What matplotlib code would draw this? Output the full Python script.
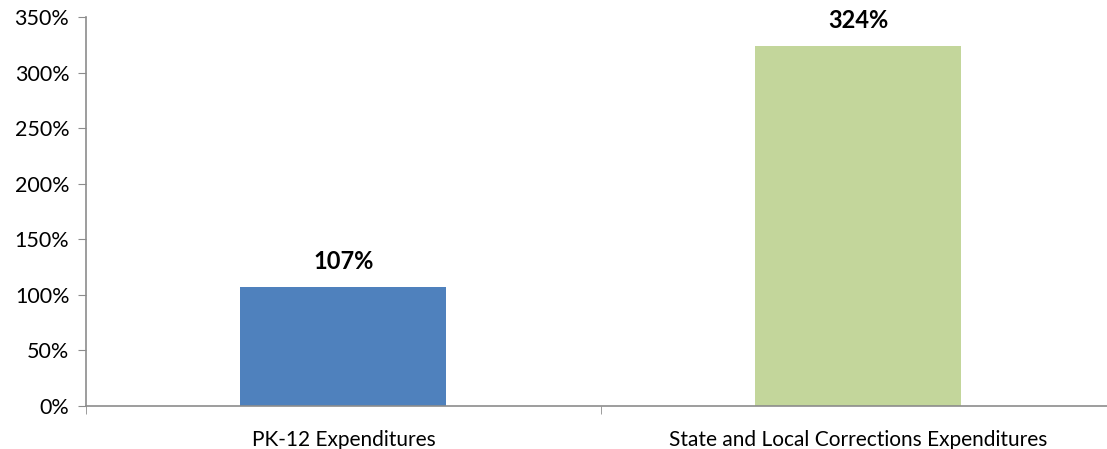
import matplotlib
matplotlib.use("Agg")
import matplotlib.pyplot as plt
from matplotlib.ticker import FuncFormatter, FixedLocator

plt.rcParams['font.family'] = ['Lato', 'DejaVu Sans']

categories = ['PK-12 Expenditures', 'State and Local Corrections Expenditures']
values = [107, 324]
colors = ['#4F81BD', '#C3D69B']

fig = plt.figure(figsize=(11.07, 4.49), dpi=100)
ax = fig.add_axes([0.0777, 0.0958, 0.93, 0.8664])

x = list(range(len(categories)))
ax.bar(x, values, width=0.40, color=colors, zorder=2)

for xi, v in zip(x, values):
    ax.annotate(f'{v}%', xy=(xi, v), xytext=(0, 10), textcoords='offset points',
                ha='center', va='bottom', fontsize=17, fontweight='bold')

ax.set_ylim(0, 350)
ax.set_yticks(range(0, 351, 50))
ax.yaxis.set_major_formatter(FuncFormatter(lambda v, p: f'{int(v)}%'))
ax.set_xlim(-0.5, 1.5)
ax.set_xticks(x)
ax.set_xticklabels(categories)
ax.xaxis.set_minor_locator(FixedLocator([-0.5, 0.5, 1.5]))
ax.tick_params(axis='x', which='major', length=0, pad=17, labelsize=15)
ax.tick_params(axis='x', which='minor', length=6, color='#8C8C8C', direction='out')
ax.tick_params(axis='y', length=6, color='#8C8C8C', labelsize=15.5, pad=6)

for s in ['top', 'right']:
    ax.spines[s].set_visible(False)
for s in ['left', 'bottom']:
    ax.spines[s].set_color('#8C8C8C')
    ax.spines[s].set_linewidth(1.2)

fig.savefig('out.png', dpi=100)
